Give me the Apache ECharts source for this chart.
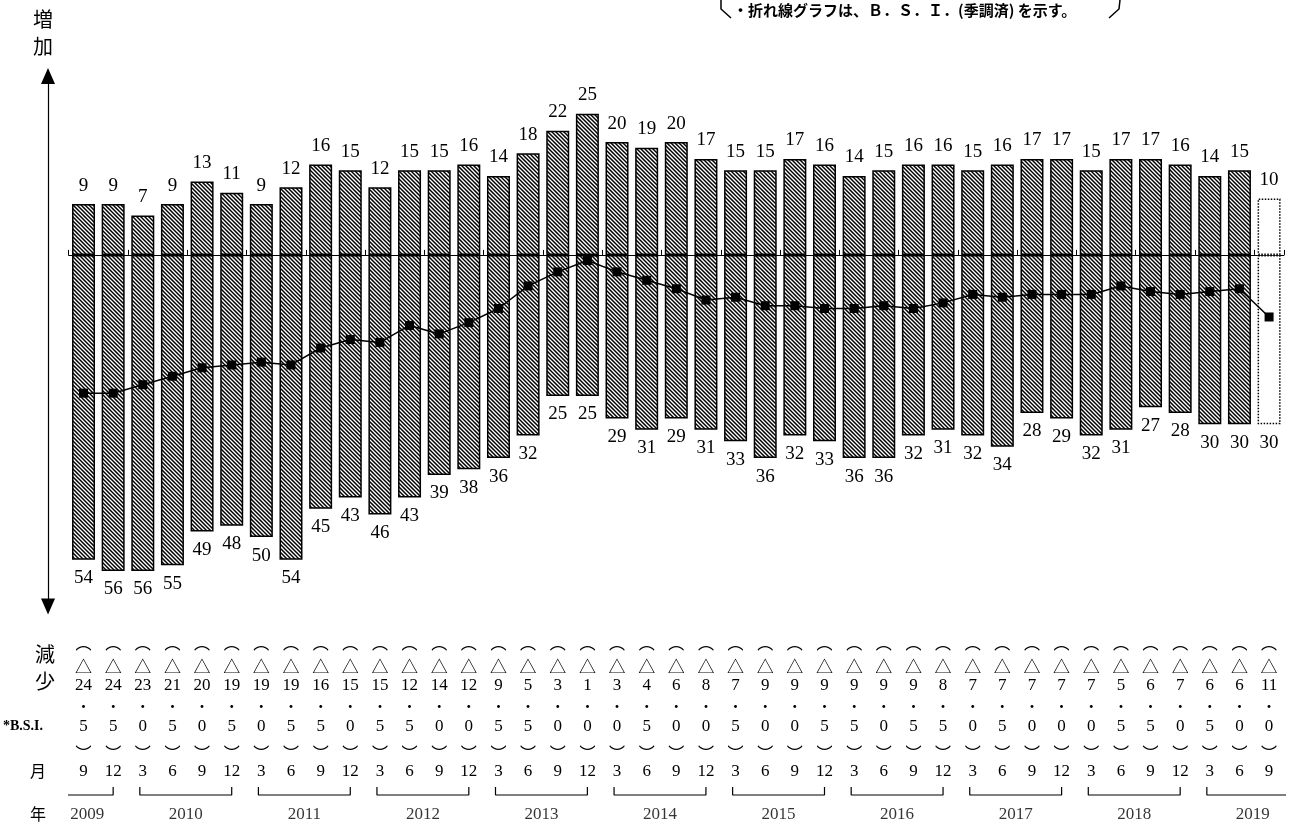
<!DOCTYPE html>
<html><head><meta charset="utf-8">
<script src="https://cdn.jsdelivr.net/npm/echarts@6/dist/echarts.min.js"></script>
<style>html,body{margin:0;padding:0;background:#fff}#c{width:1299px;height:825px}</style>
</head><body><div id="c"></div>
<script>
// ---- data ----
const startYear = 2009;
const months = [9,12, 3,6,9,12, 3,6,9,12, 3,6,9,12, 3,6,9,12, 3,6,9,12, 3,6,9,12, 3,6,9,12, 3,6,9,12, 3,6,9,12, 3,6,9];
const increase = [9,9,7,9,13,11,9,12,16,15,12,15,15,16,14,18,22,25,20,19,20,17,15,15,17,16,14,15,16,16,15,16,17,17,15,17,17,16,14,15,10];
const decrease = [54,56,56,55,49,48,50,54,45,43,46,43,39,38,36,32,25,25,29,31,29,31,33,36,32,33,36,36,32,31,32,34,28,29,32,31,27,28,30,30,30];
const bsi = [-24.5,-24.5,-23.0,-21.5,-20.0,-19.5,-19.0,-19.5,-16.5,-15.0,-15.5,-12.5,-14.0,-12.0,-9.5,-5.5,-3.0,-1.0,-3.0,-4.5,-6.0,-8.0,-7.5,-9.0,-9.0,-9.5,-9.5,-9.0,-9.5,-8.5,-7.0,-7.5,-7.0,-7.0,-7.0,-5.5,-6.5,-7.0,-6.5,-6.0,-11.0];
const forecastIndex = 40;

// ---- derived ----
const years = [];
const yearOf = [];
let y = startYear;
months.forEach((m, i) => { if (i > 0 && m === 3) y++; yearOf.push(y); if (!years.includes(y)) years.push(y); });
const cats = months.map((m, i) => yearOf[i] + '/' + m);

const rowArcTop = bsi.map(() => '︵');
const rowSign = bsi.map(v => v < 0 ? '△' : '');
const rowInt = bsi.map(v => String(Math.floor(Math.abs(v) + 1e-9)));
const rowDot = bsi.map(() => '・');
const rowDec = bsi.map(v => String(Math.round(Math.abs(v) * 10) % 10));
const rowArcBot = bsi.map(() => '︶');
const rowMonth = months.map(String);

function hatch() {
  const t = 8, c = document.createElement('canvas');
  c.width = t; c.height = t;
  const g = c.getContext('2d');
  g.fillStyle = '#fff'; g.fillRect(0, 0, t, t);
  g.strokeStyle = '#000'; g.lineWidth = 1.5;
  for (let k = -2 * t; k <= 2 * t; k += 4) {
    g.beginPath(); g.moveTo(k - 1, -1); g.lineTo(k + t + 1, t + 1); g.stroke();
  }
  return c;
}
const pattern = { image: hatch(), repeat: 'repeat' };

const GRID_LEFT = 68.7, GRID_RIGHT = 15.1, GRID_TOP = 76, GRID_BOTTOM_Y = 606.5;
const serif = 'Liberation Serif';
const cjk = 'Noto Sans CJK JP';

function rowAxis(rows, rowY, font) {
  return {
    type: 'category', gridIndex: 0, data: cats, position: 'bottom',
    offset: rowY - GRID_BOTTOM_Y,
    axisLine: { show: false, onZero: false }, axisTick: { show: false },
    axisLabel: Object.assign({ margin: 0, verticalAlign: 'middle', interval: 0, color: '#000',
      formatter: (v, i) => rows[i] }, font)
  };
}

const xAxes = [
  { type: 'category', gridIndex: 0, data: cats,
    axisLine: { onZero: true, lineStyle: { color: '#000', width: 1.2 } },
    axisTick: { show: true, inside: true, length: 5, lineStyle: { color: '#000', width: 1 } },
    axisLabel: { show: false } },
  rowAxis(rowArcTop, 643, { fontFamily: cjk, fontSize: 16 }),
  rowAxis(rowSign, 667, { fontFamily: cjk, fontSize: 17 }),
  rowAxis(rowInt, 686, { fontFamily: serif, fontSize: 17 }),
  rowAxis(rowDot, 706, { fontFamily: cjk, fontSize: 14 }),
  rowAxis(rowDec, 727, { fontFamily: serif, fontSize: 17 }),
  rowAxis(rowArcBot, 753, { fontFamily: cjk, fontSize: 16 }),
  rowAxis(rowMonth, 772, { fontFamily: serif, fontSize: 17 }),
  { type: 'value', gridIndex: 1, min: -0.5, max: 40.5, show: false }
];
const VX = xAxes.length - 1;

// year brackets
const bracketSeries = [];
const yearLabelData = [];
years.forEach(yr => {
  const idx = yearOf.map((v, i) => v === yr ? i : -1).filter(i => i >= 0);
  const first = idx[0], last = idx[idx.length - 1];
  const fullStart = months[first] === 3, fullEnd = months[last] === 12;
  const x0 = fullStart ? first - 0.1 : first - 0.75;
  const x1 = fullEnd ? last : last + 1.0;
  const pts = [];
  if (fullStart) pts.push([x0, 1]);
  pts.push([x0, 0], [x1, 0]);
  if (fullEnd) pts.push([x1, 1]);
  bracketSeries.push({ type: 'line', xAxisIndex: VX, yAxisIndex: 1, data: pts, symbol: 'none',
    clip: false, silent: true, lineStyle: { color: '#000', width: 1.2 } });
  yearLabelData.push({ value: [(x0 + x1) / 2, 0], name: String(yr) });
});

const incData = increase.map((v, i) => i === forecastIndex
  ? { value: v, itemStyle: { color: '#fff', borderType: 'dotted', borderWidth: 1.5, borderColor: '#000' } }
  : v);
const decData = decrease.map((v, i) => i === forecastIndex
  ? { value: -v, itemStyle: { color: '#fff', borderType: 'dotted', borderWidth: 1.5, borderColor: '#000' } }
  : -v);

const chart = echarts.init(document.getElementById('c'), null, { renderer: 'canvas' });
chart.setOption({
  animation: false,
  backgroundColor: '#fff',
  grid: [
    { left: GRID_LEFT, right: GRID_RIGHT, top: GRID_TOP, bottom: 825 - GRID_BOTTOM_Y },
    { left: GRID_LEFT, right: GRID_RIGHT, top: 787, height: 8 }
  ],
  xAxis: xAxes,
  yAxis: [
    { type: 'value', gridIndex: 0, min: -62.3, max: 31.7, position: 'left', offset: 20.7,
      splitLine: { show: false }, axisLabel: { show: false }, axisTick: { show: false },
      axisLine: { show: true, onZero: false, symbol: ['triangle', 'triangle'], symbolSize: [14, 16],
        lineStyle: { color: '#000', width: 1.2 } } },
    { type: 'value', gridIndex: 1, min: 0, max: 1, show: false }
  ],
  series: [
    { type: 'bar', name: '増加', data: incData, barWidth: 23, barGap: '-100%',
      itemStyle: { color: pattern, borderColor: '#000', borderWidth: 1.5 },
      label: { show: true, position: 'top', distance: 9, fontFamily: serif, fontSize: 19, color: '#000' } },
    { type: 'bar', name: '減少', data: decData, barWidth: 23, barGap: '-100%',
      itemStyle: { color: pattern, borderColor: '#000', borderWidth: 1.5 },
      label: { show: true, position: 'bottom', distance: 9, fontFamily: serif, fontSize: 19, color: '#000',
        formatter: p => String(Math.abs(p.value)) } },
    { type: 'line', name: 'B.S.I.', data: bsi, z: 5, symbol: 'rect', symbolSize: 9,
      itemStyle: { color: '#000' }, lineStyle: { color: '#000', width: 1.5 } },
    ...bracketSeries,
    { type: 'scatter', xAxisIndex: VX, yAxisIndex: 1, data: yearLabelData, symbolSize: 0, silent: true,
      label: { show: true, position: 'bottom', distance: 11, formatter: p => p.name,
        fontFamily: serif, fontSize: 17, color: '#000' } }
  ],
  graphic: [
    { type: 'text', left: 33, top: 6, style: { text: '増\n加', font: '20px "Noto Sans CJK JP"', lineHeight: 27, fill: '#000' } },
    { type: 'text', left: 35, top: 641, style: { text: '減\n少', font: '20px "Noto Sans CJK JP"', lineHeight: 27, fill: '#000' } },
    { type: 'text', left: 3, top: 719, style: { text: '*B.S.I.', font: 'bold 14px "Liberation Serif"', fill: '#000' } },
    { type: 'text', left: 30, top: 763, style: { text: '月', font: '16px "Noto Sans CJK JP"', fill: '#000' } },
    { type: 'text', left: 30, top: 806, style: { text: '年', font: '16px "Noto Sans CJK JP"', fill: '#000' } },
    { type: 'text', left: 733, top: 3, style: { text: '・折れ線グラフは、Ｂ．Ｓ．Ｉ．(季調済) を示す。', font: 'bold 15px "Noto Sans CJK JP"', fill: '#000' } },
    { type: 'polyline', shape: { points: [[721, 0], [721, 9], [731, 18]] }, style: { stroke: '#000', lineWidth: 1.5, fill: null } },
    { type: 'polyline', shape: { points: [[1120, 0], [1119, 9], [1109, 18]] }, style: { stroke: '#000', lineWidth: 1.5, fill: null } }
  ]
});
</script>
</body></html>
